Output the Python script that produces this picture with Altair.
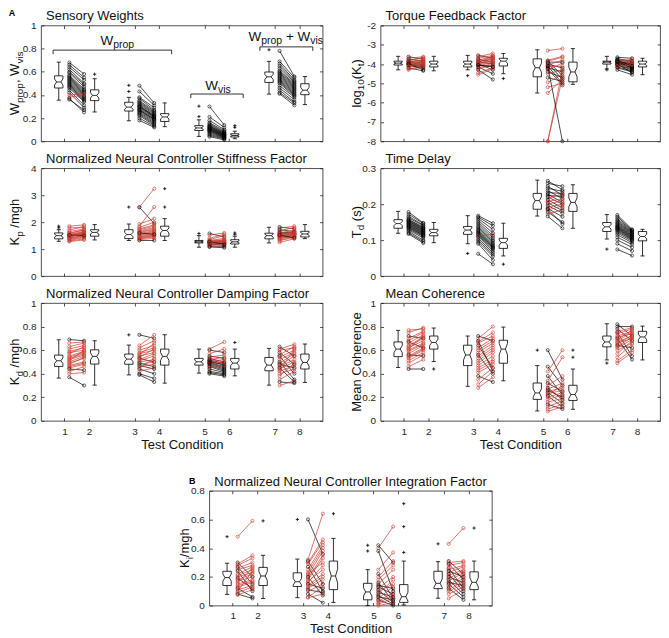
import altair as alt
import pandas as pd

# ---------------- data ----------------
TICK_POS = [0.0, 1.0, 2.85, 3.85, 5.7, 6.7, 8.55, 9.55]
COND_LABELS = ["1", "2", "3", "4", "5", "6", "7", "8"]

# Sensory weights
SW_C1 = [0.68, 0.66, 0.64, 0.62, 0.60, 0.59, 0.57, 0.56, 0.55, 0.54, 0.53, 0.52, 0.51, 0.50, 0.49, 0.48, 0.47, 0.46, 0.44, 0.42, 0.40, 0.38, 0.37, 0.36]
SW_C2 = [0.58, 0.55, 0.53, 0.50, 0.49, 0.47, 0.45, 0.44, 0.43, 0.42, 0.41, 0.40, 0.39, 0.38, 0.37, 0.36, 0.35, 0.34, 0.31, 0.29, 0.41, 0.40, 0.25, 0.27]
SW_C3 = [0.48, 0.43, 0.38, 0.37, 0.35, 0.34, 0.33, 0.32, 0.31, 0.30, 0.30, 0.29, 0.28, 0.27, 0.27, 0.26, 0.25, 0.24, 0.23, 0.22, 0.20, 0.18]
SW_C4 = [0.33, 0.31, 0.29, 0.27, 0.26, 0.25, 0.24, 0.23, 0.22, 0.22, 0.21, 0.21, 0.20, 0.19, 0.19, 0.18, 0.17, 0.16, 0.15, 0.14, 0.13, 0.12]
SW_C5 = [0.30, 0.21, 0.18, 0.16, 0.15, 0.14, 0.13, 0.13, 0.12, 0.12, 0.11, 0.11, 0.10, 0.10, 0.09, 0.09, 0.08, 0.07, 0.06, 0.05, 0.04]
SW_C6 = [0.14, 0.12, 0.10, 0.09, 0.08, 0.075, 0.07, 0.065, 0.06, 0.058, 0.055, 0.05, 0.048, 0.045, 0.04, 0.037, 0.033, 0.03, 0.025, 0.02, 0.012]
SW_C7 = [0.78, 0.69, 0.67, 0.65, 0.63, 0.61, 0.60, 0.59, 0.58, 0.57, 0.56, 0.55, 0.54, 0.53, 0.52, 0.51, 0.50, 0.48, 0.46, 0.44, 0.42, 0.41]
SW_C8 = [0.56, 0.55, 0.53, 0.52, 0.51, 0.50, 0.49, 0.48, 0.47, 0.46, 0.45, 0.44, 0.43, 0.42, 0.41, 0.40, 0.39, 0.38, 0.36, 0.34, 0.33, 0.31]
SW_LO = [0.355, 0.253, 0.177, 0.126, 0.042, 0.022, 0.407, 0.317]
SW_Q1 = [0.460, 0.351, 0.261, 0.171, 0.093, 0.037, 0.508, 0.402]
SW_MED = [0.512, 0.396, 0.295, 0.210, 0.115, 0.050, 0.556, 0.441]
SW_Q3 = [0.565, 0.444, 0.337, 0.239, 0.135, 0.065, 0.598, 0.497]
SW_HI = [0.683, 0.540, 0.379, 0.331, 0.185, 0.087, 0.690, 0.559]
SW_OUT = [[], [0.579], [0.483, 0.43], [], [0.303, 0.213], [0.135, 0.12], [0.79], []]

# Torque feedback factor
TF_C1 = [-3.62, -3.70, -3.75, -3.80, -3.85, -3.88, -3.90, -3.92, -3.95, -3.97, -4.00, -4.02, -4.05, -4.08, -4.10, -4.15, -4.20, -4.25, -4.30, -3.82, -3.98, -4.12]
TF_C2 = [-3.75, -3.62, -3.85, -3.70, -3.95, -3.80, -4.05, -3.88, -3.85, -4.10, -3.92, -4.15, -3.95, -4.20, -4.00, -4.05, -4.35, -4.10, -4.15, -3.65, -4.30, -3.90]
TF_C3 = [-3.55, -3.62, -3.70, -3.75, -3.80, -3.85, -3.88, -3.92, -3.95, -3.98, -4.00, -4.03, -4.06, -4.10, -4.15, -4.20, -4.25, -4.30, -4.45, -4.55, -3.90, -4.05]
TF_C4 = [-3.70, -3.45, -3.55, -3.90, -3.60, -3.75, -4.00, -3.65, -3.80, -4.30, -3.70, -3.85, -4.10, -3.90, -4.50, -3.95, -4.05, -4.80, -4.20, -4.25, -3.60, -4.15]
TF_C5 = [-3.30, -3.80, -3.85, -3.90, -3.95, -4.00, -4.05, -4.10, -4.15, -4.20, -4.25, -4.30, -4.40, -4.50, -4.70, -4.95, -5.20, -5.50, -8.0, -8.0, -4.12, -3.85]
TF_C6 = [-3.20, -3.60, -4.60, -3.90, -4.80, -4.20, -3.80, -5.00, -4.10, -4.40, -5.10, -3.95, -4.70, -4.30, -4.90, -4.50, -5.00, -4.80, -4.30, -4.70, -8.0, -3.65]
TF_C7 = [-3.65, -3.72, -3.78, -3.82, -3.85, -3.88, -3.90, -3.92, -3.95, -3.97, -4.00, -4.03, -4.06, -4.10, -4.15, -4.20, -4.30, -3.80, -3.93, -4.00, -3.87, -4.12]
TF_C8 = [-3.70, -3.85, -3.90, -4.00, -3.75, -4.05, -4.10, -3.95, -4.15, -4.20, -3.90, -4.25, -4.30, -4.00, -4.35, -4.40, -4.55, -4.10, -3.80, -4.45, -4.20, -4.05]
TF_LO = [-4.30, -4.35, -4.30, -4.50, -5.50, -5.05, -4.25, -4.55]
TF_Q1 = [-4.05, -4.15, -4.15, -4.10, -4.66, -4.92, -4.00, -4.15]
TF_MED = [-3.95, -4.00, -4.00, -3.85, -4.19, -4.41, -3.90, -4.00]
TF_Q3 = [-3.85, -3.85, -3.85, -3.70, -3.73, -3.90, -3.85, -3.85]
TF_HI = [-3.60, -3.60, -3.55, -3.45, -3.26, -3.20, -3.60, -3.70]
TF_OUT = [[], [], [-4.6], [-4.75], [], [], [-4.3], []]

# Stiffness factor
KP_C1 = [1.85, 1.79, 1.70, 1.65, 1.60, 1.58, 1.55, 1.53, 1.51, 1.50, 1.48, 1.46, 1.44, 1.42, 1.40, 1.38, 1.36, 1.33, 1.30, 1.28, 1.52, 1.47]
KP_C2 = [1.90, 1.80, 1.85, 1.75, 1.70, 1.72, 1.66, 1.64, 1.62, 1.60, 1.58, 1.55, 1.60, 1.50, 1.52, 1.48, 1.45, 1.42, 1.38, 1.34, 1.50, 1.56]
KP_C3 = [2.56, 2.55, 1.85, 1.93, 1.80, 1.75, 1.72, 1.68, 1.65, 1.62, 1.58, 1.55, 1.52, 1.50, 1.47, 1.45, 1.42, 1.40, 1.38, 1.35, 1.32, 1.60]
KP_C4 = [3.24, 1.95, 2.56, 2.13, 2.00, 1.90, 1.85, 1.80, 1.75, 1.72, 1.68, 1.65, 1.62, 1.58, 1.55, 1.52, 1.50, 1.48, 1.45, 1.40, 1.32, 1.55]
KP_C5 = [1.58, 1.52, 1.40, 1.35, 1.32, 1.30, 1.29, 1.28, 1.27, 1.26, 1.25, 1.24, 1.23, 1.22, 1.20, 1.18, 1.15, 1.12, 1.10, 1.08, 1.27, 1.25]
KP_C6 = [1.45, 1.60, 1.55, 1.50, 1.40, 1.35, 1.32, 1.25, 1.34, 1.28, 1.30, 1.20, 1.27, 1.25, 1.22, 1.15, 1.20, 1.10, 1.12, 1.05, 1.18, 1.30]
KP_C7 = [1.82, 1.78, 1.72, 1.68, 1.63, 1.60, 1.58, 1.56, 1.54, 1.52, 1.50, 1.49, 1.48, 1.46, 1.44, 1.42, 1.40, 1.38, 1.35, 1.30, 1.25, 1.52]
KP_C8 = [1.75, 1.85, 1.65, 1.80, 1.60, 1.70, 1.55, 1.62, 1.58, 1.66, 1.52, 1.56, 1.60, 1.50, 1.54, 1.47, 1.45, 1.52, 1.40, 1.48, 1.38, 1.42]
KP_LO = [1.29, 1.34, 1.32, 1.32, 1.07, 1.07, 1.23, 1.39]
KP_Q1 = [1.38, 1.48, 1.39, 1.48, 1.23, 1.19, 1.38, 1.45]
KP_MED = [1.50, 1.62, 1.54, 1.69, 1.27, 1.27, 1.50, 1.56]
KP_Q3 = [1.60, 1.72, 1.72, 1.85, 1.32, 1.35, 1.59, 1.66]
KP_HI = [1.72, 1.91, 1.93, 2.13, 1.50, 1.48, 1.81, 1.91]
KP_OUT = [[1.85, 1.79], [], [2.56], [3.24, 2.56], [1.58], [1.60, 1.55], [], []]

# Time delay
TD_C1 = [0.178, 0.172, 0.166, 0.162, 0.158, 0.156, 0.154, 0.152, 0.150, 0.148, 0.146, 0.144, 0.142, 0.140, 0.138, 0.136, 0.134, 0.131, 0.128, 0.124, 0.120, 0.117]
TD_C2 = [0.148, 0.146, 0.142, 0.140, 0.136, 0.134, 0.132, 0.130, 0.128, 0.126, 0.124, 0.122, 0.120, 0.118, 0.116, 0.114, 0.112, 0.110, 0.106, 0.100, 0.096, 0.092]
TD_C3 = [0.168, 0.164, 0.160, 0.155, 0.150, 0.145, 0.140, 0.136, 0.132, 0.128, 0.125, 0.122, 0.119, 0.116, 0.113, 0.110, 0.105, 0.100, 0.095, 0.090, 0.062, 0.112]
TD_C4 = [0.147, 0.140, 0.130, 0.120, 0.112, 0.106, 0.100, 0.096, 0.092, 0.088, 0.085, 0.082, 0.080, 0.078, 0.075, 0.070, 0.065, 0.060, 0.055, 0.045, 0.033, 0.116]
TD_C5 = [0.265, 0.258, 0.250, 0.244, 0.238, 0.232, 0.228, 0.224, 0.220, 0.216, 0.212, 0.208, 0.204, 0.200, 0.196, 0.192, 0.188, 0.184, 0.178, 0.172, 0.166, 0.186]
TD_C6 = [0.240, 0.250, 0.225, 0.236, 0.215, 0.230, 0.205, 0.222, 0.200, 0.228, 0.190, 0.215, 0.182, 0.210, 0.175, 0.200, 0.165, 0.195, 0.150, 0.185, 0.133, 0.145]
TD_C7 = [0.170, 0.165, 0.160, 0.156, 0.152, 0.149, 0.146, 0.143, 0.140, 0.138, 0.136, 0.134, 0.132, 0.130, 0.127, 0.124, 0.120, 0.115, 0.108, 0.100, 0.090, 0.074]
TD_C8 = [0.130, 0.128, 0.126, 0.124, 0.122, 0.120, 0.118, 0.116, 0.114, 0.112, 0.110, 0.108, 0.106, 0.104, 0.102, 0.100, 0.097, 0.093, 0.088, 0.080, 0.070, 0.057]
TD_LO = [0.119, 0.093, 0.090, 0.056, 0.167, 0.133, 0.103, 0.056]
TD_Q1 = [0.133, 0.112, 0.116, 0.077, 0.186, 0.180, 0.124, 0.098]
TD_MED = [0.146, 0.121, 0.128, 0.093, 0.210, 0.205, 0.137, 0.110]
TD_Q3 = [0.157, 0.130, 0.138, 0.105, 0.230, 0.230, 0.149, 0.124]
TD_HI = [0.180, 0.149, 0.168, 0.147, 0.267, 0.254, 0.171, 0.130]
TD_OUT = [[], [], [0.063], [0.033], [], [], [0.075], []]

# Damping factor
KD_C1 = [0.69, 0.66, 0.63, 0.61, 0.59, 0.58, 0.57, 0.55, 0.54, 0.53, 0.52, 0.51, 0.50, 0.49, 0.48, 0.47, 0.46, 0.45, 0.44, 0.42, 0.40, 0.37]
KD_C2 = [0.68, 0.67, 0.66, 0.64, 0.62, 0.60, 0.63, 0.59, 0.58, 0.57, 0.56, 0.60, 0.55, 0.53, 0.54, 0.50, 0.49, 0.48, 0.43, 0.46, 0.41, 0.30]
KD_C3 = [0.73, 0.64, 0.62, 0.60, 0.58, 0.57, 0.56, 0.55, 0.54, 0.53, 0.52, 0.51, 0.50, 0.49, 0.48, 0.47, 0.46, 0.44, 0.42, 0.40, 0.39, 0.45]
KD_C4 = [0.70, 0.73, 0.68, 0.64, 0.62, 0.60, 0.66, 0.58, 0.61, 0.50, 0.57, 0.55, 0.52, 0.46, 0.50, 0.44, 0.48, 0.40, 0.45, 0.36, 0.33, 0.53]
KD_C5 = [0.61, 0.60, 0.57, 0.55, 0.54, 0.53, 0.52, 0.515, 0.51, 0.505, 0.50, 0.495, 0.49, 0.485, 0.48, 0.47, 0.46, 0.45, 0.44, 0.42, 0.41, 0.40]
KD_C6 = [0.67, 0.58, 0.61, 0.53, 0.56, 0.50, 0.54, 0.49, 0.47, 0.52, 0.48, 0.46, 0.45, 0.50, 0.44, 0.43, 0.42, 0.47, 0.41, 0.40, 0.39, 0.38]
KD_C7 = [0.63, 0.61, 0.60, 0.58, 0.56, 0.55, 0.54, 0.52, 0.50, 0.49, 0.48, 0.47, 0.46, 0.45, 0.44, 0.43, 0.42, 0.40, 0.38, 0.35, 0.33, 0.30]
KD_C8 = [0.55, 0.65, 0.62, 0.48, 0.63, 0.40, 0.60, 0.58, 0.35, 0.57, 0.45, 0.55, 0.52, 0.33, 0.50, 0.61, 0.47, 0.44, 0.49, 0.42, 0.32, 0.34]
KD_LO = [0.363, 0.303, 0.390, 0.320, 0.405, 0.382, 0.303, 0.326]
KD_Q1 = [0.462, 0.482, 0.480, 0.473, 0.473, 0.440, 0.425, 0.440]
KD_MED = [0.510, 0.547, 0.524, 0.547, 0.501, 0.490, 0.473, 0.496]
KD_Q3 = [0.558, 0.603, 0.567, 0.609, 0.530, 0.530, 0.538, 0.567]
KD_HI = [0.688, 0.680, 0.643, 0.731, 0.609, 0.609, 0.615, 0.652]
KD_OUT = [[], [], [0.73], [], [], [0.665], [], []]

# Mean coherence
MC_C1 = [0.77, 0.75, 0.72, 0.70, 0.68, 0.67, 0.66, 0.64, 0.63, 0.62, 0.61, 0.60, 0.59, 0.57, 0.56, 0.55, 0.54, 0.53, 0.51, 0.49, 0.46, 0.44]
MC_C2 = [0.78, 0.79, 0.70, 0.76, 0.75, 0.62, 0.73, 0.71, 0.70, 0.68, 0.72, 0.66, 0.65, 0.64, 0.55, 0.62, 0.61, 0.60, 0.58, 0.56, 0.52, 0.44]
MC_C3 = [0.72, 0.70, 0.68, 0.67, 0.66, 0.64, 0.62, 0.60, 0.58, 0.56, 0.55, 0.53, 0.51, 0.49, 0.47, 0.45, 0.43, 0.41, 0.38, 0.35, 0.31, 0.28]
MC_C4 = [0.68, 0.80, 0.42, 0.75, 0.72, 0.45, 0.70, 0.68, 0.66, 0.40, 0.64, 0.62, 0.60, 0.58, 0.55, 0.52, 0.50, 0.48, 0.33, 0.45, 0.42, 0.37]
MC_C5 = [0.60, 0.46, 0.42, 0.38, 0.34, 0.32, 0.30, 0.28, 0.27, 0.26, 0.25, 0.24, 0.23, 0.22, 0.21, 0.20, 0.18, 0.16, 0.14, 0.12, 0.10, 0.08]
MC_C6 = [0.35, 0.30, 0.60, 0.22, 0.54, 0.25, 0.38, 0.18, 0.32, 0.20, 0.28, 0.15, 0.26, 0.30, 0.12, 0.24, 0.22, 0.19, 0.10, 0.17, 0.14, 0.12]
MC_C7 = [0.82, 0.80, 0.78, 0.76, 0.75, 0.74, 0.72, 0.71, 0.70, 0.69, 0.68, 0.67, 0.66, 0.65, 0.64, 0.63, 0.62, 0.60, 0.57, 0.54, 0.51, 0.49]
MC_C8 = [0.72, 0.80, 0.68, 0.79, 0.55, 0.78, 0.76, 0.74, 0.52, 0.77, 0.75, 0.72, 0.70, 0.73, 0.62, 0.71, 0.69, 0.66, 0.68, 0.65, 0.60, 0.58]
MC_LO = [0.453, 0.503, 0.293, 0.340, 0.084, 0.098, 0.517, 0.517]
MC_Q1 = [0.545, 0.609, 0.469, 0.489, 0.182, 0.173, 0.628, 0.665]
MC_MED = [0.609, 0.665, 0.559, 0.609, 0.237, 0.223, 0.670, 0.712]
MC_Q3 = [0.670, 0.720, 0.642, 0.684, 0.321, 0.302, 0.720, 0.760]
MC_HI = [0.768, 0.788, 0.720, 0.796, 0.469, 0.440, 0.824, 0.804]
MC_OUT = [[], [0.44], [], [], [0.60], [0.60, 0.54], [0.49], []]

# Integration factor (panel B)
KI_C1 = [0.48, 0.30, 0.29, 0.28, 0.27, 0.26, 0.25, 0.24, 0.22, 0.21, 0.20, 0.19, 0.18, 0.17, 0.16, 0.15, 0.14, 0.13, 0.12, 0.11, 0.10, 0.09, 0.08, 0.075]
KI_C2 = [0.59, 0.20, 0.35, 0.33, 0.15, 0.30, 0.28, 0.10, 0.27, 0.25, 0.23, 0.12, 0.22, 0.20, 0.26, 0.18, 0.17, 0.16, 0.06, 0.14, 0.24, 0.13, 0.05, 0.11]
KI_C3 = [0.60, 0.32, 0.31, 0.30, 0.29, 0.27, 0.25, 0.23, 0.22, 0.21, 0.20, 0.19, 0.18, 0.17, 0.16, 0.15, 0.14, 0.13, 0.12, 0.11, 0.10, 0.08, 0.06, 0.055]
KI_C4 = [0.36, 0.64, 0.15, 0.46, 0.44, 0.10, 0.42, 0.40, 0.30, 0.38, 0.07, 0.35, 0.33, 0.25, 0.28, 0.12, 0.22, 0.20, 0.18, 0.09, 0.15, 0.02, 0.13, 0.08]
KI_C5 = [0.42, 0.40, 0.38, 0.25, 0.22, 0.20, 0.18, 0.16, 0.15, 0.14, 0.13, 0.12, 0.11, 0.10, 0.09, 0.08, 0.07, 0.06, 0.05, 0.04, 0.03, 0.02, 0.01, 0.0]
KI_C6 = [0.30, 0.55, 0.10, 0.37, 0.05, 0.31, 0.28, 0.03, 0.25, 0.12, 0.08, 0.20, 0.02, 0.15, 0.06, 0.18, 0.01, 0.04, 0.13, 0.0, 0.09, 0.07, 0.05, 0.02]
KI_C7 = [0.43, 0.31, 0.30, 0.29, 0.28, 0.26, 0.25, 0.24, 0.23, 0.22, 0.21, 0.20, 0.19, 0.18, 0.17, 0.16, 0.15, 0.14, 0.13, 0.12, 0.11, 0.10, 0.08, 0.05]
KI_C8 = [0.54, 0.22, 0.31, 0.18, 0.30, 0.12, 0.28, 0.20, 0.27, 0.10, 0.25, 0.16, 0.24, 0.08, 0.23, 0.14, 0.06, 0.21, 0.19, 0.04, 0.17, 0.15, 0.13, 0.11]
KI_LO = [0.078, 0.049, 0.055, 0.022, 0.000, 0.004, 0.051, 0.040]
KI_Q1 = [0.140, 0.140, 0.133, 0.111, 0.040, 0.022, 0.118, 0.111]
KI_MED = [0.195, 0.206, 0.166, 0.206, 0.095, 0.062, 0.155, 0.162]
KI_Q3 = [0.239, 0.266, 0.228, 0.310, 0.155, 0.146, 0.239, 0.235]
KI_HI = [0.295, 0.350, 0.324, 0.468, 0.250, 0.310, 0.306, 0.310]
KI_OUT = [[0.48], [0.59], [0.60], [0.64], [0.42, 0.38], [0.71, 0.55, 0.37], [0.43], [0.54]]

# bracket annotations of the sensory-weights panel
BR_TEXT = [["W", "prop"], ["W", "vis"], ["W", "prop", " + W", "vis"]]
BR_X1 = [-0.46, 5.14, 7.95]
BR_X2 = [4.36, 7.27, 10.10]
BR_Y = [0.787, 0.408, 0.815]
BR_TX = [2.15, 6.25, 9.0]
BR_TY = [0.83, 0.445, 0.862]

# ---------------- style / layout ----------------
RED = "#cc3a2e"
INK = "#262626"
FONT = "Liberation Sans, Arial, Helvetica, sans-serif"
XDOM = [-0.95, 10.5]
BOX_OFF = [-0.23, 0.23] * 4
LINE_OFF = [0.2, -0.2] * 4
BOX_HW = 0.17
CAP_HW = 0.085
NOTCH_K = 1.57 / (40 ** 0.5)
ONE = pd.DataFrame({"a": [0]})

CW = {'W': 944, 'p': 556, 'r': 333, 'o': 556, ',': 278, ' ': 278, 'v': 500, 'i': 222,
      's': 500, '+': 584, 'K': 667, '/': 278, 'm': 833, 'g': 556, 'h': 556, 'T': 611, 'd': 556,
      '(': 333, ')': 333, 'l': 222, '1': 556, '0': 556, 't': 278, 'M': 833, 'e': 556, 'a': 556,
      'n': 556, 'C': 722, 'c': 500}


def tw(s, size):
    return sum(CW.get(c, 556) for c in s) * size / 1000.0


LABEL_EXPR = "'' + (indexof([" + ",".join(str(p) for p in TICK_POS) + "], datum.value) + 1)"
YLAB_EXPR = "replace(format(datum.value, '~g'), '\u2212', '-')"


def split_lead(t):
    s = t.lstrip(" ")
    return s, len(t) - len(s)


def rot_title(pieces, x, h):
    total = sum(tw(t, s) for t, s, _ in pieces)
    cum = 0.0
    out = []
    for t, s, sub in pieces:
        txt, nlead = split_lead(t)
        cum += nlead * 278 * s / 1000.0
        ypix = h / 2 + total / 2 - cum
        xpix = x + (3.5 if sub else 0)
        out.append(alt.Chart(ONE).mark_text(text=txt, angle=270, align="left", baseline="alphabetic",
                                            fontSize=s, font=FONT, color="#111111").encode(
            x=alt.value(xpix), y=alt.value(ypix)))
        cum += tw(txt, s)
    return out


def comp_text(parts, x, y, XS, YS):
    pieces = []
    for j, t in enumerate(parts):
        pieces.append((t, 13.5 if j % 2 == 0 else 10.5, j % 2 == 1))
    total = sum(tw(t, s) for t, s, _ in pieces)
    cum = -total / 2
    out = []
    df = pd.DataFrame({"x": [x], "y": [y]})
    for t, s, sub in pieces:
        txt, nlead = split_lead(t)
        cum += nlead * 278 * s / 1000.0
        kw = dict(text=txt, align="left", baseline="alphabetic", dx=cum, fontSize=s, font=FONT,
                  color="#111111")
        if sub:
            kw["dy"] = 3
        out.append(alt.Chart(df).mark_text(**kw).encode(
            x=alt.X("x:Q", scale=XS, axis=None), y=alt.Y("y:Q", scale=YS, axis=None)))
        cum += tw(txt, s)
    return out


def panel(title, ypieces, ytx, ydom, yvals, conds, stats, outs, w, h, xlabels,
          letter=None, letter_pos=(-30, -11), brackets=False, xpads=(6, 2)):
    XS = alt.Scale(domain=XDOM, nice=False, zero=False)
    YS = alt.Scale(domain=ydom, nice=False, zero=False)
    lo, q1, md, q3, hi = stats
    poly, med, whisk, caps, outl = [], [], [], [], []
    for i in range(8):
        cx = TICK_POS[i] + BOX_OFF[i]
        nt = NOTCH_K * (q3[i] - q1[i])
        pts = [(cx - BOX_HW, q1[i]), (cx - BOX_HW, md[i] - nt), (cx - BOX_HW / 2, md[i]),
               (cx - BOX_HW, md[i] + nt), (cx - BOX_HW, q3[i]), (cx + BOX_HW, q3[i]),
               (cx + BOX_HW, md[i] + nt), (cx + BOX_HW / 2, md[i]), (cx + BOX_HW, md[i] - nt),
               (cx + BOX_HW, q1[i]), (cx - BOX_HW, q1[i])]
        for k, (px, py) in enumerate(pts):
            poly.append({"box": i, "k": k, "x": px, "y": py})
        med.append({"x": cx - BOX_HW / 2, "x2": cx + BOX_HW / 2, "y": md[i]})
        whisk.append({"x": cx, "y": q3[i], "y2": hi[i]})
        whisk.append({"x": cx, "y": lo[i], "y2": q1[i]})
        caps.append({"x": cx - CAP_HW, "x2": cx + CAP_HW, "y": hi[i]})
        caps.append({"x": cx - CAP_HW, "x2": cx + CAP_HW, "y": lo[i]})
        for v in outs[i]:
            outl.append({"x": cx, "y": v})
    lines = []
    for p in range(4):
        a, b = conds[2 * p], conds[2 * p + 1]
        xa = TICK_POS[2 * p] + LINE_OFF[2 * p]
        xb = TICK_POS[2 * p + 1] + LINE_OFF[2 * p + 1]
        for s, (va, vb) in enumerate(zip(a, b, strict=True)):
            d = "up" if vb > va else "down"
            lines.append({"id": f"{p}-{s}", "x": xa, "y": va, "dir": d})
            lines.append({"id": f"{p}-{s}", "x": xb, "y": vb, "dir": d})
    lines_df = pd.DataFrame(lines)

    common_ax = dict(domain=False, grid=False, offset=-3, tickSize=3, tickColor=INK, tickWidth=0.8,
                     labelColor=INK, labelFont=FONT, labelFontSize=10, minExtent=0)
    xb_kw = dict(orient="bottom", values=TICK_POS, labels=xlabels, **common_ax)
    if xlabels:
        xb_kw.update(labelExpr=LABEL_EXPR, labelPadding=xpads[0], title="Test Condition", titleFont=FONT,
                     titleFontSize=13, titleFontWeight="normal", titleColor="#111111",
                     titlePadding=xpads[1])
    else:
        xb_kw.update(title=None)
    xaxis_b = alt.Axis(**xb_kw)
    xaxis_t = alt.Axis(orient="top", values=TICK_POS, labels=False, title=None, **common_ax)
    yaxis_l = alt.Axis(orient="left", values=yvals, labelExpr=YLAB_EXPR, labelPadding=5, title=None,
                       **common_ax)
    yaxis_r = alt.Axis(orient="right", values=yvals, labels=False, title=None, **common_ax)

    X = lambda: alt.X("x:Q", scale=XS, axis=None)
    Y = lambda: alt.Y("y:Q", scale=YS, axis=None)
    color = alt.Color("dir:N", scale=alt.Scale(domain=["up", "down"], range=[RED, "#000000"]),
                      legend=None)

    layers = []
    layers.append(alt.Chart(lines_df).mark_line(strokeWidth=0.7).encode(
        x=alt.X("x:Q", scale=XS, axis=xaxis_b), y=alt.Y("y:Q", scale=YS, axis=yaxis_l),
        detail="id:N", color=color))
    layers.append(alt.Chart(lines_df).mark_point(shape="circle", filled=False, size=10, strokeWidth=0.6,
                                                 opacity=1).encode(
        x=alt.X("x:Q", scale=XS, axis=xaxis_t), y=alt.Y("y:Q", scale=YS, axis=yaxis_r), color=color))
    layers.append(alt.Chart(pd.DataFrame(poly)).mark_line(color="black", strokeWidth=0.8).encode(
        x=X(), y=Y(), detail="box:N", order="k:Q"))
    layers.append(alt.Chart(pd.DataFrame(med)).mark_rule(color="black", strokeWidth=0.8).encode(
        x=X(), x2="x2:Q", y=Y()))
    layers.append(alt.Chart(pd.DataFrame(whisk)).mark_rule(color="black", strokeWidth=0.8).encode(
        x=X(), y=Y(), y2="y2:Q"))
    layers.append(alt.Chart(pd.DataFrame(caps)).mark_rule(color="black", strokeWidth=0.8).encode(
        x=X(), x2="x2:Q", y=Y()))
    if outl:
        layers.append(alt.Chart(pd.DataFrame(outl)).mark_point(
            shape="M-1,0L1,0M0,-1L0,1", size=10, strokeWidth=0.8, color="black", filled=False,
            opacity=1).encode(x=X(), y=Y()))
    if brackets:
        br = pd.DataFrame({"x": BR_X1, "x2": BR_X2, "y": BR_Y})
        layers.append(alt.Chart(br).mark_rule(color="black", strokeWidth=0.8).encode(
            x=X(), x2="x2:Q", y=Y()))
        ends = pd.DataFrame({"x": BR_X1 + BR_X2, "y": BR_Y + BR_Y,
                             "y2": [v - 0.035 for v in BR_Y + BR_Y]})
        layers.append(alt.Chart(ends).mark_rule(color="black", strokeWidth=0.8).encode(
            x=X(), y=Y(), y2="y2:Q"))
        for parts, tx, ty in zip(BR_TEXT, BR_TX, BR_TY):
            layers += comp_text(parts, tx, ty, XS, YS)
    layers += rot_title(ypieces, ytx, h)
    # panel title as text mark
    layers.append(alt.Chart(ONE).mark_text(text=title, align="left", baseline="alphabetic", fontSize=13,
                                           font=FONT, color="#111111").encode(
        x=alt.value(5), y=alt.value(-5)))
    if letter:
        layers.append(alt.Chart(ONE).mark_text(text=letter, fontWeight="bold", fontSize=9, font=FONT,
                                               align="center", baseline="middle", color="black").encode(
            x=alt.value(letter_pos[0]), y=alt.value(letter_pos[1])))
    return alt.layer(*layers).resolve_axis(x="independent", y="independent").properties(
        width=w, height=h)


WL, WR, WB = 282, 280, 283
H1, H2, H3, HB = 116, 108, 118, 115

p1 = panel("Sensory Weights", [("W", 13, 0), ("prop", 10, 1), (", W", 13, 0), ("vis", 10, 1)], -22,
           [0, 1], [0, 0.2, 0.4, 0.6, 0.8, 1],
           [SW_C1, SW_C2, SW_C3, SW_C4, SW_C5, SW_C6, SW_C7, SW_C8],
           [SW_LO, SW_Q1, SW_MED, SW_Q3, SW_HI], SW_OUT, WL, H1, False, letter="A",
           letter_pos=(-29, -12), brackets=True)
p2 = panel("Torque Feedback Factor",
           [("log", 13, 0), ("10", 10, 1), ("(K", 13, 0), ("t", 10, 1), (")", 13, 0)], -20,
           [-8, -2], [-8, -7, -6, -5, -4, -3, -2],
           [TF_C1, TF_C2, TF_C3, TF_C4, TF_C5, TF_C6, TF_C7, TF_C8],
           [TF_LO, TF_Q1, TF_MED, TF_Q3, TF_HI], TF_OUT, WR, H1, False)
p3 = panel("Normalized Neural Controller Stiffness Factor",
           [("K", 13, 0), ("p", 10, 1), (" /mgh", 13, 0)], -22,
           [0, 4], [0, 1, 2, 3, 4],
           [KP_C1, KP_C2, KP_C3, KP_C4, KP_C5, KP_C6, KP_C7, KP_C8],
           [KP_LO, KP_Q1, KP_MED, KP_Q3, KP_HI], KP_OUT, WL, H2, False)
p4 = panel("Time Delay", [("T", 13, 0), ("d", 10, 1), (" (s)", 13, 0)], -20,
           [0, 0.3], [0, 0.1, 0.2, 0.3],
           [TD_C1, TD_C2, TD_C3, TD_C4, TD_C5, TD_C6, TD_C7, TD_C8],
           [TD_LO, TD_Q1, TD_MED, TD_Q3, TD_HI], TD_OUT, WR, H2, False)
p5 = panel("Normalized Neural Controller Damping Factor",
           [("K", 13, 0), ("d", 10, 1), (" /mgh", 13, 0)], -22,
           [0, 1], [0, 0.2, 0.4, 0.6, 0.8, 1],
           [KD_C1, KD_C2, KD_C3, KD_C4, KD_C5, KD_C6, KD_C7, KD_C8],
           [KD_LO, KD_Q1, KD_MED, KD_Q3, KD_HI], KD_OUT, WL, H3, True)
p6 = panel("Mean Coherence", [("Mean Coherence", 13, 0)], -20,
           [0, 1], [0, 0.2, 0.4, 0.6, 0.8, 1],
           [MC_C1, MC_C2, MC_C3, MC_C4, MC_C5, MC_C6, MC_C7, MC_C8],
           [MC_LO, MC_Q1, MC_MED, MC_Q3, MC_HI], MC_OUT, WR, H3, True)
p7 = panel("Normalized Neural Controller Integration Factor",
           [("K", 13, 0), ("i", 10, 1), ("/mgh", 13, 0)], -20,
           [0, 0.8], [0, 0.2, 0.4, 0.6, 0.8],
           [KI_C1, KI_C2, KI_C3, KI_C4, KI_C5, KI_C6, KI_C7, KI_C8],
           [KI_LO, KI_Q1, KI_MED, KI_Q3, KI_HI], KI_OUT, WB, HB, True, letter="B",
           letter_pos=(-17, -10), xpads=(5, 2))

top = alt.vconcat(alt.hconcat(p1, p2, spacing=26), alt.hconcat(p3, p4, spacing=26),
                  alt.hconcat(p5, p6, spacing=26), spacing=5)
chart = alt.vconcat(top, p7, spacing=22, center=True).properties(padding=0).configure_view(
    stroke=INK, strokeWidth=0.8)

chart.save("out.html", embed_options={"renderer": "svg", "actions": False})
